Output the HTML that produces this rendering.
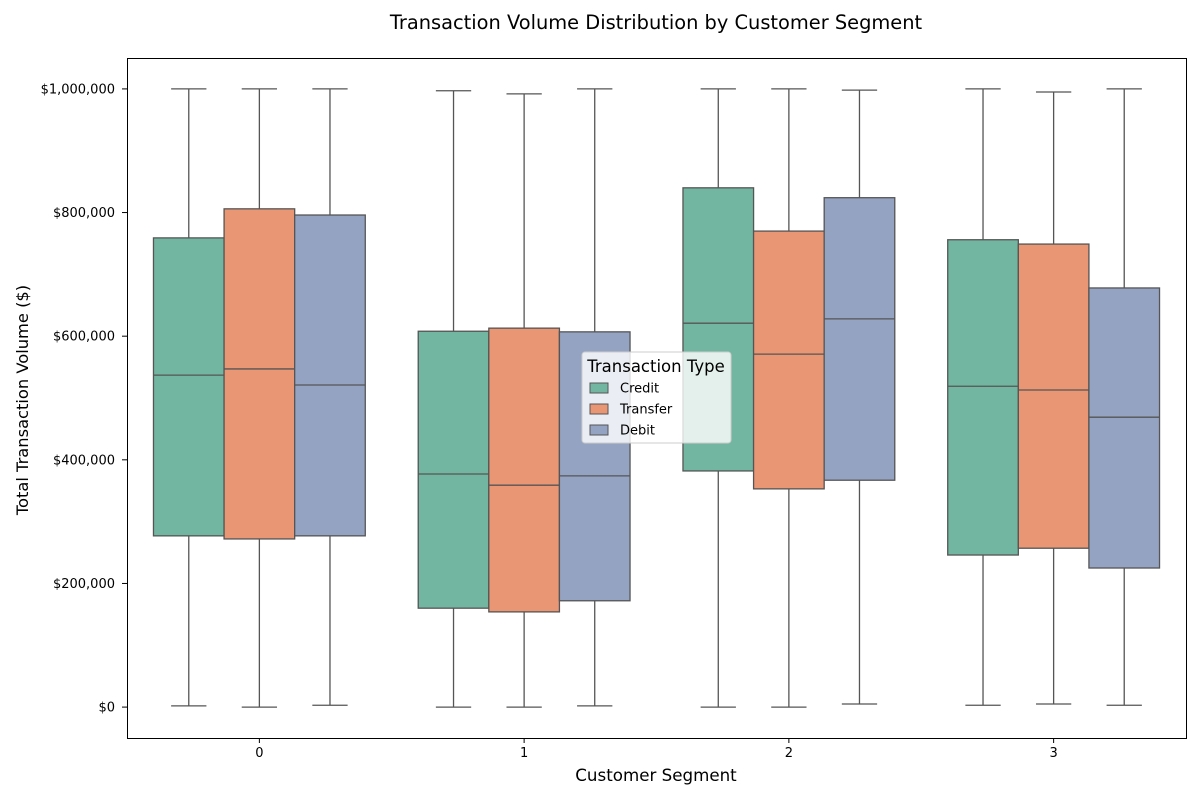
<!DOCTYPE html>
<html><head><meta charset="utf-8"><style>
body{margin:0;background:#fff}
svg text{font-family:"DejaVu Sans","Liberation Sans",sans-serif;fill:#000}
</style></head><body>
<svg id="chart" width="1200" height="800">
<text x="656" y="29" text-anchor="middle" font-size="19.4">Transaction Volume Distribution by Customer Segment</text>
<rect x="127.5" y="58.5" width="1059" height="680" fill="none" stroke="#000" stroke-width="1"/>
<g id="marks"></g>
<text x="656" y="781" text-anchor="middle" font-size="16.7">Customer Segment</text>
<text transform="translate(28,400) rotate(-90)" text-anchor="middle" font-size="16.3">Total Transaction Volume ($)</text>
</svg>
<script>
const categories = ["0","1","2","3"];
const seriesNames = ["Credit","Transfer","Debit"];
const colors = ["#72b6a1","#e99675","#95a3c3"];
// values in thousands: [min, q1, median, q3, max]
const creditStats = [[2,277,537,759,1000],[0,160,377,608,997],[0,382,621,840,1000],[3,246,519,756,1000]];
const transferStats = [[0,272,547,806,1000],[0,154,359,613,992],[0,353,571,770,1000],[5,257,513,749,995]];
const debitStats = [[3,277,521,796,1000],[2,172,374,607,1000],[5,367,628,824,998],[3,225,469,678,1000]];
const yTicks = [0,200,400,600,800,1000];
const yTickLabels = ["$0","$200,000","$400,000","$600,000","$800,000","$1,000,000"];

const NS="http://www.w3.org/2000/svg";
const g=document.getElementById("marks");
const x0=127,x1=1186,y0=738,y1=58;
const yMin=-50,yMax=1050;
const y=v=>y0-(v-yMin)/(yMax-yMin)*(y0-y1);
const step=(x1-x0)/categories.length;
const xc=i=>x0+step*(i+0.5);
function el(t,a){const e=document.createElementNS(NS,t);for(const k in a)e.setAttribute(k,a[k]);g.appendChild(e);return e;}
yTicks.forEach((t,i)=>{
  const l=el("line",{x1:122,x2:127,y1:y(t),y2:y(t),stroke:"#000"});
  
  
  const tx=el("text",{x:115,y:y(t)+4.5,"text-anchor":"end","font-size":"13"});tx.textContent=yTickLabels[i];
  
  
});
categories.forEach((c,i)=>{
  const l=el("line",{x1:xc(i),x2:xc(i),y1:738,y2:743,stroke:"#000"});
  
  
  const tx=el("text",{x:xc(i),y:757,"text-anchor":"middle","font-size":"13"});tx.textContent=c;
  
  
});
const all=[creditStats,transferStats,debitStats];
const groupW=step*0.8,bw=groupW/3;
all.forEach((stats,s)=>{
  stats.forEach((d,i)=>{
    const left=xc(i)-groupW/2+s*bw, mid=left+bw/2;
    const a={stroke:"#555","stroke-width":1.3};
    const w1=el("line",Object.assign({x1:mid,x2:mid,y1:y(d[0]),y2:y(d[1])},a));
    
    
    const w2=el("line",Object.assign({x1:mid,x2:mid,y1:y(d[3]),y2:y(d[4])},a));
    
    
    [d[0],d[4]].forEach(v=>{const c=el("line",Object.assign({x1:mid-bw/4,x2:mid+bw/4,y1:y(v),y2:y(v)},a));
      
      });
    const r=el("rect",{x:left,y:y(d[3]),width:bw,height:y(d[1])-y(d[3]),fill:colors[s],stroke:"#555","stroke-width":1.3});
    
    
    const m=el("line",Object.assign({x1:left,x2:left+bw,y1:y(d[2]),y2:y(d[2])},a));
    
    
  });
});
// legend
const lg=el("rect",{x:582,y:352,width:149,height:91,rx:3,fill:"#fff","fill-opacity":0.8,stroke:"#ccc"});


const lt=el("text",{x:656,y:372,"text-anchor":"middle","font-size":"16.5"});lt.textContent="Transaction Type";


seriesNames.forEach((n,s)=>{
  const yy=388+s*21;
  const sw=el("rect",{x:590,y:yy-5,width:18,height:10,fill:colors[s],stroke:"#555"});
  
  
  const t=el("text",{x:620,y:yy+4.5,"font-size":"13"});t.textContent=n;
  
  
});
</script>
</body></html>
